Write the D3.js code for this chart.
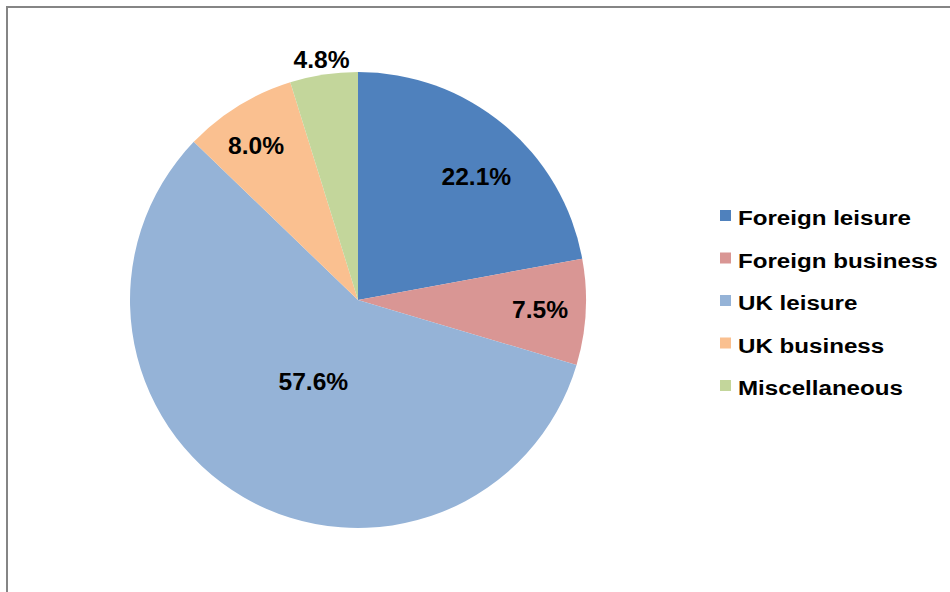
<!DOCTYPE html>
<html>
<head>
<meta charset="utf-8">
<script src="https://cdn.jsdelivr.net/npm/d3@7"></script>
<style>
    body { margin: 0; background: #fff; }
    text { font-family: "Liberation Sans", Arial, sans-serif; font-weight: bold; fill: #000; }
</style>
</head>
<body>
<div id="chart"></div>
<script>
// data
let categories = ["Foreign leisure", "Foreign business", "UK leisure", "UK business", "Miscellaneous"];
let shares = [22.1, 7.5, 57.6, 8.0, 4.8];
let colors = ["#4f81bd", "#d99694", "#95b3d7", "#fac090", "#c3d69b"];

(function() {

    let width = 950,
        height = 592;

    let cx = 358, cy = 300, radius = 228;
    // how far out each label sits, as a share of the radius, and a small turn in degrees
    let labelRadius = [0.75, 0.80, 0.41, 0.81, 1.065];
    let labelTurn = [4, 0, -1.7, -1.8, 0];

    let svg = d3.select("#chart")
        .append("svg")
        .attr("width", width)
        .attr("height", height);

    // grey frame, runs off the right and bottom edges
    svg.append("rect")
        .attr("x", 7)
        .attr("y", 7)
        .attr("width", 980)
        .attr("height", 640)
        .attr("fill", "none")
        .attr("stroke", "#858585")
        .attr("stroke-width", 2);

    let data = categories.map((c, i) => ({ name: c, value: shares[i], color: colors[i] }));

    let pie = d3.pie()
        .sort(null)
        .value(d => d.value);

    let arc = d3.arc()
        .innerRadius(0)
        .outerRadius(radius);

    let g = svg.append("g")
        .attr("transform", `translate(${cx}, ${cy})`);

    let arcs = pie(data);

    g.selectAll("path")
        .data(arcs)
        .enter()
        .append("path")
        .attr("d", arc)
        .attr("fill", d => d.data.color);

    // percentage labels
    g.selectAll(".label")
        .data(arcs)
        .enter()
        .append("text")
        .attr("class", "label")
        .attr("transform", (d, i) => {
            let r = radius * labelRadius[i];
            let a = (d.startAngle + d.endAngle) / 2 + labelTurn[i] * Math.PI / 180;
            return `translate(${r * Math.sin(a)}, ${-r * Math.cos(a)}) scale(1.07, 1)`;
        })
        .attr("text-anchor", "middle")
        .attr("dy", "0.36em")
        .style("font-size", "23px")
        .text(d => d.data.value.toFixed(1) + "%");

    // legend
    let legend = svg.append("g")
        .attr("transform", "translate(720, 225)");

    let rows = legend.selectAll(".row")
        .data(data)
        .enter()
        .append("g")
        .attr("class", "row")
        .attr("transform", (d, i) => `translate(0, ${i * 42.5})`);

    rows.append("rect")
        .attr("x", 0)
        .attr("y", -15)
        .attr("width", 11)
        .attr("height", 11)
        .attr("fill", d => d.color);

    rows.append("text")
        .attr("transform", "translate(18, 0) scale(1.15, 1)")
        .style("font-size", "21px")
        .text(d => d.name);

})();
</script>
</body>
</html>
